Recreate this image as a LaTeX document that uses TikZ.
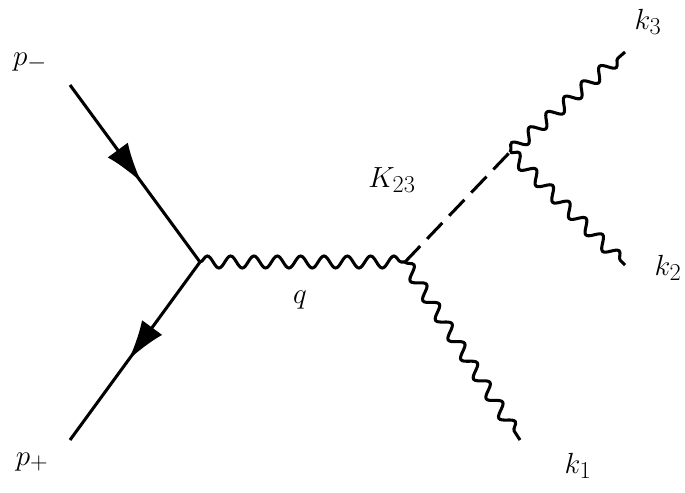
\documentclass[tikz,border=0pt]{standalone}
\usetikzlibrary{decorations.pathmorphing,decorations.markings,arrows.meta}
\begin{document}
\begin{tikzpicture}[x=0.03cm,y=-0.03cm,line width=2.6pt,
  photon/.style={decorate,decoration={snake,amplitude=0.18cm,segment length=0.7cm}},
  fermion/.style={postaction={decorate},decoration={markings,mark=at position 0.55 with {\arrow{Latex[length=1.2cm,width=0.75cm]}}}},
  lbl/.style={font=\fontsize{30}{34}\selectfont}]
\useasboundingbox (0,0) rectangle (685,492);
\coordinate (a) at (70,85);
\coordinate (b) at (70,440);
\coordinate (v1) at (200,262);
\coordinate (v2) at (405,262);
\coordinate (v3) at (510,152);
\coordinate (k1) at (520,440);
\coordinate (k2) at (625,265);
\coordinate (k3) at (625,52);
\draw[fermion] (a) -- (v1);
\draw[fermion] (v1) -- (b);
\draw[photon] (v1) -- (v2);
\draw[photon] (v2) -- (k1);
\draw[dash pattern=on 0.66cm off 0.3cm] (v2) -- (v3);
\draw[photon] (v3) -- (k3);
\draw[photon] (v3) -- (k2);
\node[lbl] (lpm) at (30,62) {$p_-$};
\node[lbl] (lpp) at (32,462) {$p_+$};
\node[lbl] (lq) at (300,300) {$q$};
\node[lbl] (lK) at (392,180) {$K_{23}$};
\node[lbl] (l3) at (648,22) {$k_3$};
\node[lbl] (l2) at (668,268) {$k_2$};
\node[lbl] (l1) at (578,466) {$k_1$};
\end{tikzpicture}
\end{document}
